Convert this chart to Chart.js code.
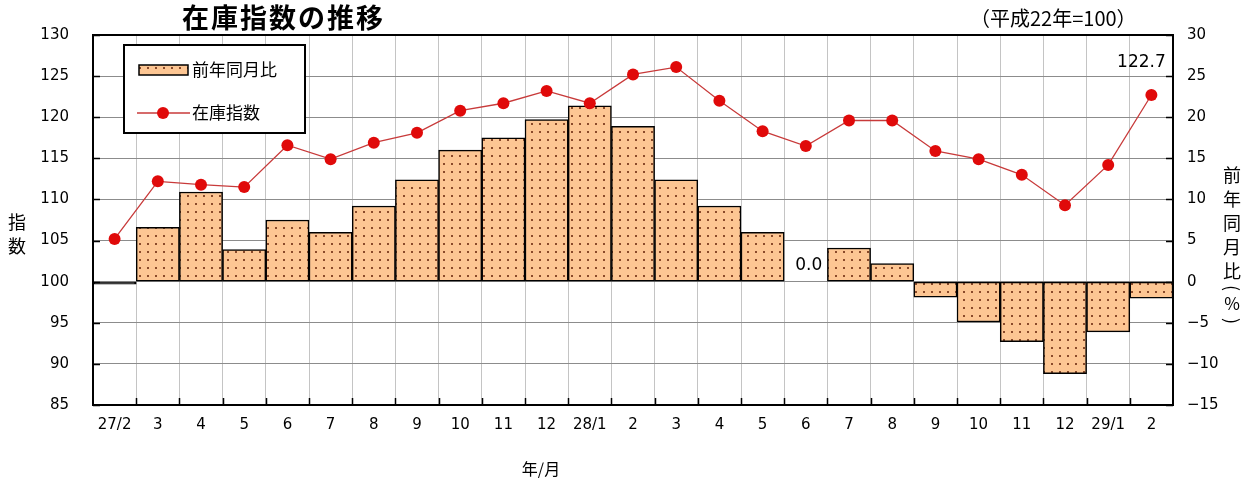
<!DOCTYPE html>
<html>
<head>
<meta charset="utf-8">
<script src="https://cdn.jsdelivr.net/npm/chart.js@4/dist/chart.umd.min.js"></script>
<style>
  html, body { margin: 0; padding: 0; background: #fff; }
  #wrap { width: 1247px; height: 486px; }
</style>
</head>
<body>
<div id="wrap"><canvas id="c" width="1247" height="486"></canvas></div>
<script>
// 年/月
const months = ['27/2','3','4','5','6','7','8','9','10','11','12','28/1','2','3','4','5','6','7','8','9','10','11','12','29/1','2'];
// 在庫指数 (平成22年=100)
const stockIndex = [105.2,112.2,111.8,111.5,116.6,114.9,116.9,118.1,120.8,121.7,123.2,121.7,125.2,126.1,122.0,118.3,116.5,119.6,119.6,115.9,114.9,113.0,109.3,114.2,122.7];
// 前年同月比 (%)
const yoyChange = [-0.3,6.6,10.9,3.9,7.5,6.0,9.2,12.4,16.0,17.5,19.7,21.4,18.9,12.4,9.2,6.0,0.0,4.1,2.2,-1.9,-4.9,-7.3,-11.2,-6.1,-2.0];
// axis ranges
const indexTicks = [85,90,95,100,105,110,115,120,125,130];
const yoyTicks = [-15,-10,-5,0,5,10,15,20,25,30];

const CJK = '"Noto Sans CJK JP", "Noto Sans", sans-serif';
const NUM = '"DejaVu Sans", "Liberation Sans", sans-serif';
const LINE_COLOR = '#c83a3a';
const POINT_COLOR = '#e00a0a';
const BAR_FILL = '#fdc693';

// dotted peach fill for the bars
function dotPattern() {
  const p = document.createElement('canvas');
  p.width = 8; p.height = 8;
  const g = p.getContext('2d');
  g.fillStyle = BAR_FILL;
  g.fillRect(0, 0, 8, 8);
  g.fillStyle = '#8a4a2a';
  g.fillRect(3, 3, 2, 2);
  return document.getElementById('c').getContext('2d').createPattern(p, 'repeat');
}
const pattern = dotPattern();

const decorations = {
  id: 'decorations',
  afterDatasetsDraw(chart) {
    const ctx = chart.ctx;
    const a = chart.chartArea;
    const x = chart.scales.x, y = chart.scales.y, y1 = chart.scales.y1;
    ctx.save();
    // inner tick marks
    ctx.strokeStyle = '#000';
    ctx.lineWidth = 1.5;
    ctx.beginPath();
    for (let i = 1; i < months.length; i++) {
      const bx = Math.round((x.getPixelForValue(i - 1) + x.getPixelForValue(i)) / 2) + 0.5;
      ctx.moveTo(bx, a.bottom); ctx.lineTo(bx, a.bottom - 7);
    }
    indexTicks.forEach(v => {
      const py = Math.round(y.getPixelForValue(v)) + 0.5;
      ctx.moveTo(a.left, py); ctx.lineTo(a.left + 7, py);
    });
    yoyTicks.forEach(v => {
      const py = Math.round(y1.getPixelForValue(v)) + 0.5;
      ctx.moveTo(a.right, py); ctx.lineTo(a.right - 7, py);
    });
    ctx.stroke();
    // plot frame
    ctx.lineWidth = 2;
    ctx.strokeRect(a.left, a.top, a.right - a.left, a.bottom - a.top);

    // value labels
    ctx.fillStyle = '#000';
    ctx.font = '17px ' + NUM;
    ctx.textAlign = 'center';
    ctx.textBaseline = 'middle';
    const bars = chart.getDatasetMeta(1).data;
    const zeroIdx = yoyChange.indexOf(0);
    if (zeroIdx >= 0) {
      ctx.fillText(yoyChange[zeroIdx].toFixed(1), bars[zeroIdx].x + 3, y1.getPixelForValue(0) - 16);
    }
    const pts = chart.getDatasetMeta(0).data;
    const last = stockIndex.length - 1;
    ctx.fillText(stockIndex[last].toFixed(1), pts[last].x - 10, pts[last].y - 32);

    // legend
    ctx.fillStyle = '#fff';
    ctx.fillRect(124, 45, 181, 88);
    ctx.lineWidth = 2;
    ctx.strokeStyle = '#000';
    ctx.strokeRect(124, 45, 181, 88);
    ctx.fillStyle = pattern;
    ctx.fillRect(139, 65, 49, 10);
    ctx.lineWidth = 1.5;
    ctx.strokeRect(139, 65, 49, 10);
    ctx.strokeStyle = LINE_COLOR;
    ctx.beginPath(); ctx.moveTo(137, 113); ctx.lineTo(190, 113); ctx.stroke();
    ctx.fillStyle = POINT_COLOR;
    ctx.beginPath(); ctx.arc(163, 113, 6, 0, Math.PI * 2); ctx.fill();
    ctx.fillStyle = '#000';
    ctx.font = '17px ' + CJK;
    ctx.textAlign = 'left';
    ctx.fillText(chart.data.datasets[1].label, 192, 70);
    ctx.fillText(chart.data.datasets[0].label, 192, 113);
    ctx.restore();
  },
  afterDraw(chart) {
    const ctx = chart.ctx;
    ctx.save();
    ctx.fillStyle = '#000';
    ctx.textBaseline = 'middle';
    // title
    ctx.font = 'bold 27px ' + CJK;
    ctx.textAlign = 'left';
    ctx.letterSpacing = '2px';
    ctx.fillText('在庫指数の推移', 182, 18);
    ctx.letterSpacing = '0px';
    ctx.font = '20px ' + CJK;
    ctx.fillText('（平成22年=100）', 970, 18);
    // left axis title
    ctx.textAlign = 'center';
    ctx.font = '18px ' + CJK;
    ctx.fillText('指', 17, 222);
    ctx.fillText('数', 17, 246);
    // right axis title, written top to bottom
    ['前','年','同','月','比'].forEach((ch, i) => ctx.fillText(ch, 1232, 175 + i * 24));
    const paren = (ch, py) => {
      ctx.save();
      ctx.translate(1232, py);
      ctx.rotate(Math.PI / 2);
      ctx.fillText(ch, 0, 0);
      ctx.restore();
    };
    paren('(', 288);
    ctx.font = '17px ' + CJK;
    ctx.fillText('%', 1232, 304);
    ctx.font = '18px ' + CJK;
    paren(')', 321);
    // x axis title
    ctx.font = '16px ' + CJK;
    ctx.fillText('年/月', 541, 469);
    ctx.restore();
  }
};

const minusSign = v => String(v).replace('-', '−');

new Chart(document.getElementById('c'), {
  type: 'bar',
  data: {
    labels: months,
    datasets: [
      {
        type: 'line',
        label: '在庫指数',
        data: stockIndex,
        yAxisID: 'y',
        order: 0,
        borderColor: LINE_COLOR,
        borderWidth: 1.3,
        pointRadius: 6,
        pointHoverRadius: 6,
        pointBackgroundColor: POINT_COLOR,
        pointBorderColor: POINT_COLOR,
        pointBorderWidth: 0,
        tension: 0
      },
      {
        type: 'bar',
        label: '前年同月比',
        data: yoyChange,
        yAxisID: 'y1',
        order: 1,
        // very thin bars collapse into a solid outline
        backgroundColor: c => (Math.abs(c.raw) < 0.5 ? '#000' : pattern),
        borderColor: '#000',
        borderWidth: 1.5,
        borderSkipped: false,
        barPercentage: 1,
        categoryPercentage: 1
      }
    ]
  },
  options: {
    responsive: false,
    animation: false,
    events: [],
    layout: { padding: { top: 35, left: 0, right: 0, bottom: 0 } },
    plugins: { legend: { display: false }, tooltip: { enabled: false } },
    scales: {
      x: {
        grid: { offset: true, color: '#c4c4c4', lineWidth: 1, drawTicks: false },
        border: { display: false },
        ticks: { color: '#000', font: { family: NUM, size: 15 }, padding: 11, maxRotation: 0, autoSkip: false },
        afterFit(s) { s.height = 81; }
      },
      y: {
        position: 'left',
        min: indexTicks[0],
        max: indexTicks[indexTicks.length - 1],
        afterBuildTicks(s) { s.ticks = indexTicks.map(v => ({ value: v })); },
        grid: { color: '#8c8c8c', lineWidth: 1, drawTicks: false },
        border: { display: false },
        ticks: { color: '#000', font: { family: NUM, size: 15 }, padding: 24 },
        afterFit(s) { s.width = 93; }
      },
      y1: {
        position: 'right',
        min: yoyTicks[0],
        max: yoyTicks[yoyTicks.length - 1],
        afterBuildTicks(s) { s.ticks = yoyTicks.map(v => ({ value: v })); },
        grid: { drawOnChartArea: false, drawTicks: false },
        border: { display: false },
        ticks: { color: '#000', font: { family: NUM, size: 15 }, padding: 14, callback: minusSign },
        afterFit(s) { s.width = 74; }
      }
    }
  },
  plugins: [decorations]
});
</script>
</body>
</html>
